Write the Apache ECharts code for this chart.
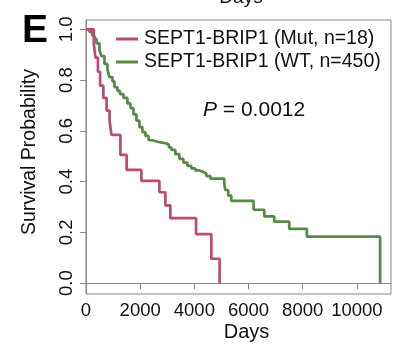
<!DOCTYPE html>
<html><head><meta charset="utf-8">
<script src="https://cdn.jsdelivr.net/npm/echarts@6/dist/echarts.min.js"></script>
<style>html,body{margin:0;padding:0;background:#fff}#c{width:399px;height:345px}</style>
</head><body><div id="c"></div>
<script>
// Kaplan-Meier steps
const mutName = 'SEPT1-BRIP1 (Mut, n=18)';
const wtName = 'SEPT1-BRIP1 (WT, n=450)';
const mutDays = [0, 288, 350, 440, 520, 640, 760, 870, 940, 1270, 1500, 2046, 2710, 2930, 3115, 4063, 4627, 4933];
const mutSurv = [1, 0.944, 0.889, 0.833, 0.778, 0.73, 0.68, 0.64, 0.584, 0.505, 0.446, 0.403, 0.358, 0.306, 0.256, 0.193, 0.096, 0];
const wtDays = [0,129,229,313,387,498,571,682,793,866,977,1051,1161,1253,1382,1530,1641,1751,1862,1972,2083,2194,2315,2452,2673,2857,2968,3060,3152,3300,3447,3594,3742,3889,4037,4184,4332,4442,4590,5106,5143,5253,5364,6186,6581,6949,7502,8155,10857];
const wtSurv = [1,0.99,0.975,0.963,0.945,0.917,0.895,0.864,0.84,0.812,0.795,0.772,0.758,0.745,0.73,0.708,0.69,0.665,0.64,0.615,0.595,0.58,0.563,0.556,0.553,0.55,0.545,0.535,0.525,0.508,0.49,0.475,0.462,0.452,0.444,0.438,0.432,0.422,0.412,0.39,0.367,0.345,0.324,0.289,0.263,0.242,0.214,0.183,0];
const xTicks = [0, 2000, 4000, 6000, 8000, 10000];
const yTicks = [0, 0.2, 0.4, 0.6, 0.8, 1.0];
const pText = '0.0012';

const FONT = 'Liberation Sans, Arial, sans-serif';
const pink = '#bb4a77', green = '#558b44', axisGrey = '#888';
const zip = (a, b) => a.map((v, i) => [v, b[i]]);

const chart = echarts.init(document.getElementById('c'), null, {renderer: 'canvas'});
chart.setOption({
  animation: false,
  backgroundColor: '#fff',
  grid: {left: 86, right: 8, top: 20, bottom: 51, show: true, borderColor: axisGrey, borderWidth: 1, containLabel: false},
  legend: {
    orient: 'vertical', left: 116, top: 29, padding: 0, itemGap: 3,
    icon: 'rect', itemWidth: 22, itemHeight: 3,
    textStyle: {fontFamily: FONT, fontSize: 19.5, color: '#111', lineHeight: 20, padding: [0, 0, 0, 1]},
    data: [mutName, wtName]
  },
  xAxis: {
    type: 'value', min: 0, max: 11260,
    splitLine: {show: false},
    axisLine: {show: true, lineStyle: {color: axisGrey}},
    axisTick: {show: true, length: 6, customValues: xTicks, lineStyle: {color: axisGrey}},
    axisLabel: {customValues: xTicks, fontFamily: FONT, fontSize: 18.5, color: '#111', margin: 7,
      formatter: v => String(Math.round(v))}
  },
  yAxis: {
    type: 'value', min: -0.043, max: 1.037,
    splitLine: {show: false},
    axisLine: {show: true, lineStyle: {color: axisGrey}},
    axisTick: {show: true, length: 6, customValues: yTicks, lineStyle: {color: axisGrey}},
    axisLabel: {customValues: yTicks, rotate: 90, fontFamily: FONT, fontSize: 18.5, color: '#111', margin: 10,
      formatter: v => v.toFixed(1)}
  },
  series: [
    {name: mutName, type: 'line', step: 'end', showSymbol: false, data: zip(mutDays, mutSurv),
     color: pink, lineStyle: {width: 2.7, color: pink}, z: 3},
    {name: wtName, type: 'line', step: 'end', showSymbol: false, data: zip(wtDays, wtSurv),
     color: green, lineStyle: {width: 2.7, color: green}, z: 2}
  ],
  graphic: [
    {type: 'text', left: 22, top: 12, style: {text: 'E', font: 'bold 39px ' + FONT, fill: '#000'}},
    {type: 'text', x: 241, y: -2, style: {text: 'Days', font: '19px ' + FONT, fill: '#111', align: 'center', verticalAlign: 'middle'}},
    {type: 'text', x: 30, y: 152, rotation: Math.PI / 2,
     style: {text: 'Survival Probability', font: '19.5px ' + FONT, fill: '#111', align: 'center', verticalAlign: 'middle'}},
    {type: 'text', x: 246.5, y: 332, style: {text: 'Days', font: '20px ' + FONT, fill: '#111', align: 'center', verticalAlign: 'middle'}},
    {type: 'text', x: 203, y: 110.5,
     style: {text: '{i|P}{n| = ' + pText + '}', verticalAlign: 'middle', align: 'left',
       rich: {i: {font: 'italic 21px ' + FONT, fill: '#111'}, n: {font: '21px ' + FONT, fill: '#111'}}}}
  ]
});
</script></body></html>
